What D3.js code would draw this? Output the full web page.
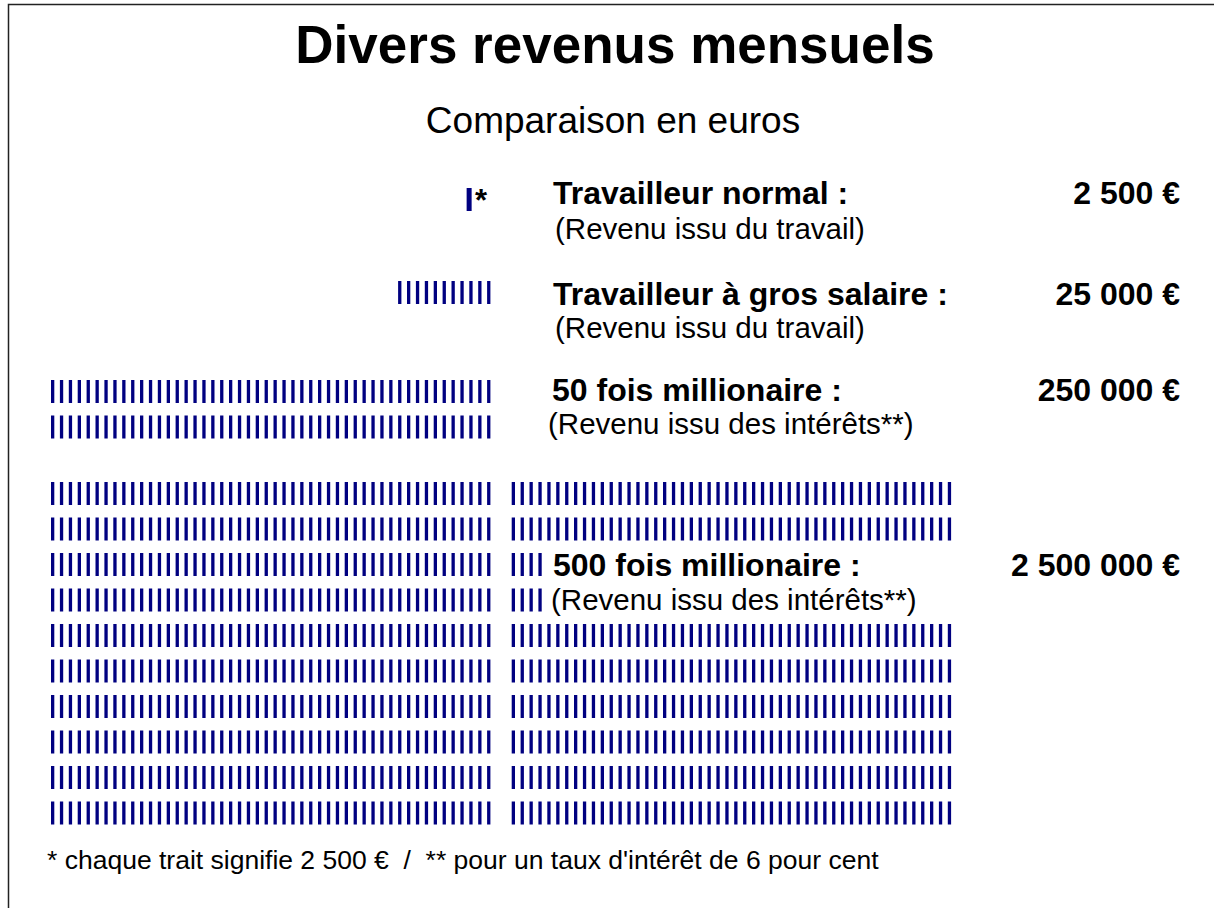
<!DOCTYPE html>
<html><head><meta charset="utf-8">
<script src="https://cdn.jsdelivr.net/npm/d3@7"></script>
<style>html,body{margin:0;padding:0;background:#fff;}svg{display:block;}</style>
</head><body>
<script>
// ---- data ----
const categories = ["Travailleur normal :", "Travailleur à gros salaire :", "50 fois millionaire :", "500 fois millionaire :"];
const sublabels = ["(Revenu issu du travail)", "(Revenu issu du travail)", "(Revenu issu des intérêts**)", "(Revenu issu des intérêts**)"];
const amounts = [2500, 25000, 250000, 2500000];
const amountLabels = ["2 500 €", "25 000 €", "250 000 €", "2 500 000 €"];
// marks drawn per line, left block (right-aligned) and right block (left-aligned)
const leftMarks = [[1], [11], [50, 50], [50, 50, 50, 50, 50, 50, 50, 50, 50, 50]];
const rightMarks = [[], [], [], [50, 50, 4, 4, 50, 50, 50, 50, 50, 50]];
const unitValue = 2500;
const title = "Divers revenus mensuels";
const subtitle = "Comparaison en euros";
const footnote = "* chaque trait signifie 2 500 €  /  ** pour un taux d'intérêt de 6 pour cent";

// ---- layout ----
const W = 1214, H = 908;
const svg = d3.select("body").append("svg").attr("width", W).attr("height", H);
const navy = "#000080";
const font = "'Liberation Sans', Arial, sans-serif";

// frame
svg.append("path").attr("d", `M8.5,${H} L8.5,4.5 L${W},4.5`).attr("fill", "none").attr("stroke", "#222").attr("stroke-width", 1.5);

svg.append("text").attr("x", 615).attr("y", 63).attr("text-anchor", "middle")
  .attr("font-family", font).attr("font-weight", "bold").attr("font-size", 53).text(title);
svg.append("text").attr("x", 613).attr("y", 133).attr("text-anchor", "middle")
  .attr("font-family", font).attr("font-size", 37).text(subtitle);

// scales
const perLine = 50;
const xLeft = d3.scaleLinear().domain([0, perLine]).range([51, 51 + perLine * 8.9]);
const xRight = d3.scaleLinear().domain([0, perLine]).range([511.7, 511.7 + perLine * 8.9]);
const groupTop = d3.scaleOrdinal().domain(categories).range([188, 281, 380, 482]);
const groupEnd = [47.7, 50, 50, 50]; // last column slot used by each group (room for the asterisk)
const yLine = d3.scaleLinear().domain([0, 1]).range([0, 35.5]);
const markH = 23;

const g = svg.append("g");
categories.forEach((c, gi) => {
  const top = groupTop(c);
  leftMarks[gi].forEach((n, li) => {
    const idx = d3.range(n).map(k => groupEnd[gi] - n + k);
    const thick = gi === 0;
    g.selectAll(null).data(idx).enter().append("rect")
      .attr("x", d => xLeft(d))
      .attr("y", top + yLine(li))
      .attr("width", thick ? 5 : 3.3)
      .attr("height", markH)
      .attr("fill", navy);
  });
  rightMarks[gi].forEach((n, li) => {
    g.selectAll(null).data(d3.range(0, n)).enter().append("rect")
      .attr("x", d => xRight(d))
      .attr("y", top + yLine(li))
      .attr("width", 3.3)
      .attr("height", markH)
      .attr("fill", navy);
  });
});
// asterisk next to single mark
svg.append("text").attr("x", 475).attr("y", 211).attr("font-family", font).attr("font-weight", "bold")
  .attr("font-size", 31).text("*");

const labelPos = [
  {x: 553, y: 204, sx: 555, sy: 239, vy: 204},
  {x: 553, y: 305, sx: 555, sy: 338, vy: 305},
  {x: 552, y: 401, sx: 548, sy: 434, vy: 401},
  {x: 553, y: 576, sx: 551, sy: 610, vy: 576}
];
categories.forEach((c, i) => {
  const p = labelPos[i];
  svg.append("text").attr("x", p.x).attr("y", p.y).attr("font-family", font).attr("font-weight", "bold")
    .attr("font-size", 32).text(c);
  svg.append("text").attr("x", p.sx).attr("y", p.sy).attr("font-family", font)
    .attr("font-size", 29.5).text(sublabels[i]);
  svg.append("text").attr("x", 1180).attr("y", p.vy).attr("text-anchor", "end").attr("font-family", font)
    .attr("font-weight", "bold").attr("font-size", 32).text(amountLabels[i]);
});

svg.append("text").attr("x", 47).attr("y", 869).attr("font-family", font).attr("font-size", 26.5)
  .attr("xml:space", "preserve").style("white-space", "pre").text(footnote);
</script>
</body></html>
